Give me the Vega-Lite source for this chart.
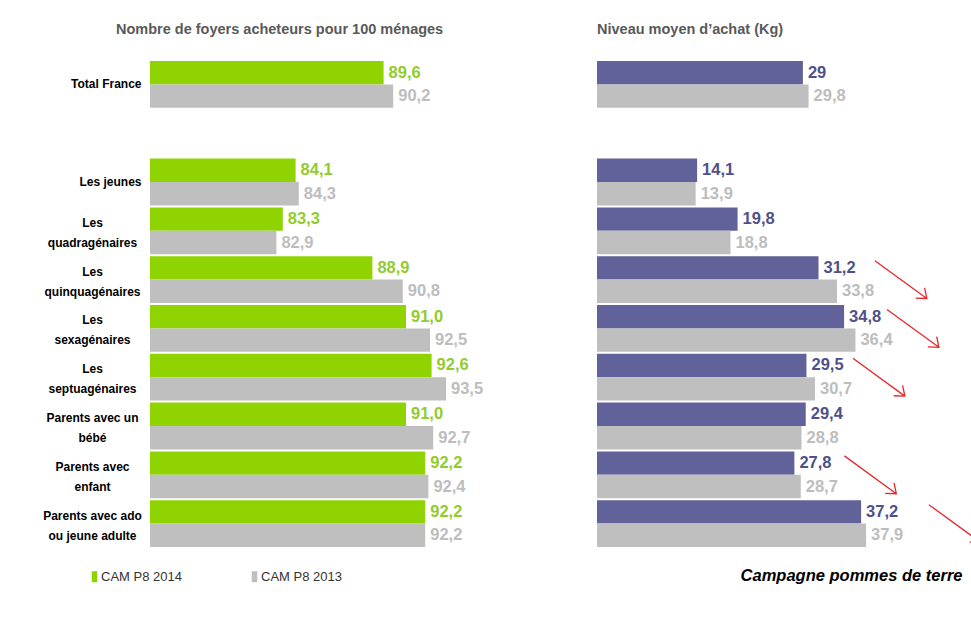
{
  "$schema": "https://vega.github.io/schema/vega-lite/v6.json",
  "background": "white",
  "padding": {"left": 42, "top": 21, "right": 0, "bottom": 0},
  "config": {
    "locale": {"number": {"decimal": ",", "thousands": " ", "grouping": [3], "currency": ["", " €"]}},
    "view": {"stroke": null},
    "font": "Liberation Sans",
    "concat": {"spacing": 47}
  },
  "datasets": {
    "main": [
      {"categorie": "Total France", "serie": "CAM P8 2014", "acheteurs": 89.6, "kg": 29},
      {"categorie": "Total France", "serie": "CAM P8 2013", "acheteurs": 90.2, "kg": 29.8},
      {"categorie": "Les jeunes", "serie": "CAM P8 2014", "acheteurs": 84.1, "kg": 14.1},
      {"categorie": "Les jeunes", "serie": "CAM P8 2013", "acheteurs": 84.3, "kg": 13.9},
      {"categorie": "Les\nquadragénaires", "serie": "CAM P8 2014", "acheteurs": 83.3, "kg": 19.8},
      {"categorie": "Les\nquadragénaires", "serie": "CAM P8 2013", "acheteurs": 82.9, "kg": 18.8},
      {"categorie": "Les\nquinquagénaires", "serie": "CAM P8 2014", "acheteurs": 88.9, "kg": 31.2},
      {"categorie": "Les\nquinquagénaires", "serie": "CAM P8 2013", "acheteurs": 90.8, "kg": 33.8},
      {"categorie": "Les\nsexagénaires", "serie": "CAM P8 2014", "acheteurs": 91.0, "kg": 34.8},
      {"categorie": "Les\nsexagénaires", "serie": "CAM P8 2013", "acheteurs": 92.5, "kg": 36.4},
      {"categorie": "Les\nseptuagénaires", "serie": "CAM P8 2014", "acheteurs": 92.6, "kg": 29.5},
      {"categorie": "Les\nseptuagénaires", "serie": "CAM P8 2013", "acheteurs": 93.5, "kg": 30.7},
      {"categorie": "Parents avec un\nbébé", "serie": "CAM P8 2014", "acheteurs": 91.0, "kg": 29.4},
      {"categorie": "Parents avec un\nbébé", "serie": "CAM P8 2013", "acheteurs": 92.7, "kg": 28.8},
      {"categorie": "Parents avec\nenfant", "serie": "CAM P8 2014", "acheteurs": 92.2, "kg": 27.8},
      {"categorie": "Parents avec\nenfant", "serie": "CAM P8 2013", "acheteurs": 92.4, "kg": 28.7},
      {"categorie": "Parents avec ado\nou jeune adulte", "serie": "CAM P8 2014", "acheteurs": 92.2, "kg": 37.2},
      {"categorie": "Parents avec ado\nou jeune adulte", "serie": "CAM P8 2013", "acheteurs": 92.2, "kg": 37.9}
    ],
    "fleches": [
      {"categorie": "Les\nquinquagénaires", "position": 42.8},
      {"categorie": "Les\nsexagénaires", "position": 44.5},
      {"categorie": "Les\nseptuagénaires", "position": 39.7},
      {"categorie": "Parents avec\nenfant", "position": 38.5},
      {"categorie": "Parents avec ado\nou jeune adulte", "position": 50.4}
    ]
  },
  "hconcat": [
    {
      "width": 400,
      "height": 488,
      "data": {"name": "main"},
      "title": {"text": "Nombre de foyers acheteurs pour 100 ménages", "anchor": "start", "frame": "group", "dx": -34, "fontSize": 14.5, "fontWeight": "bold", "color": "#595959", "offset": 23},
      "encoding": {
        "y": {
          "field": "categorie", "type": "nominal",
          "scale": {"domain": ["Total France", " ", "Les jeunes", "Les\nquadragénaires", "Les\nquinquagénaires", "Les\nsexagénaires", "Les\nseptuagénaires", "Parents avec un\nbébé", "Parents avec\nenfant", "Parents avec ado\nou jeune adulte"], "paddingInner": 0.04, "paddingOuter": 0.02},
          "axis": {
            "title": null, "domain": false, "ticks": false, "tickSize": 0,
            "labelExpr": "split(datum.value, '\\n')",
            "labelFont": "Liberation Sans", "labelFontSize": 12, "labelFontWeight": "bold", "labelColor": "#000000",
            "labelLineHeight": 20, "labelLimit": 250,
            "labelAlign": {"condition": {"test": "indexof(datum.value, '\\n') >= 0", "value": "center"}, "value": "right"},
            "labelPadding": {"condition": {"test": "indexof(datum.value, '\\n') >= 0", "value": 58}, "value": 9},
            "labelOffset": {"condition": {"test": "indexof(datum.value, '\\n') >= 0", "value": -8}, "value": 0}
          }
        },
        "x": {"field": "acheteurs", "type": "quantitative", "scale": {"domain": [75, 100], "zero": false}, "axis": null}
      },
      "layer": [
        {
          "mark": {"type": "bar"},
          "encoding": {
            "x2": {"datum": 75},
            "yOffset": {"field": "serie", "type": "nominal", "scale": {"domain": ["CAM P8 2014", "CAM P8 2013"], "paddingInner": 0, "paddingOuter": 0}},
            "color": {
              "field": "serie", "type": "nominal",
              "scale": {"domain": ["CAM P8 2014", "CAM P8 2013"], "range": ["#8fd400", "#bfbfbf"]},
              "legend": {"title": null, "orient": "none", "legendX": -62, "legendY": 510, "direction": "horizontal", "symbolType": "M-0.5,-1L0.5,-1L0.5,1L-0.5,1Z", "symbolSize": 121, "symbolStrokeWidth": 0, "labelFontSize": 13, "labelColor": "#333333", "labelFont": "Liberation Sans", "columnPadding": 66, "labelOffset": 0}
            }
          }
        },
        {
          "mark": {"type": "text", "align": "left", "baseline": "middle", "dx": 5, "fontSize": 16.5, "fontWeight": "bold", "font": "Liberation Sans"},
          "encoding": {
            "yOffset": {"field": "serie", "type": "nominal", "scale": {"domain": ["CAM P8 2014", "CAM P8 2013"], "paddingInner": 0, "paddingOuter": 0}},
            "text": {"field": "acheteurs", "type": "quantitative", "format": ".1f"},
            "color": {"condition": {"test": "datum.serie === 'CAM P8 2014'", "value": "#92cc2c"}, "value": "#bdbdbd"}
          }
        }
      ]
    },
    {
      "width": 355,
      "height": 488,
      "title": {"text": "Niveau moyen d’achat (Kg)", "anchor": "start", "frame": "group", "dx": 0, "fontSize": 14.5, "fontWeight": "bold", "color": "#595959", "offset": 23},
      "encoding": {
        "y": {
          "field": "categorie", "type": "nominal",
          "scale": {"domain": ["Total France", " ", "Les jeunes", "Les\nquadragénaires", "Les\nquinquagénaires", "Les\nsexagénaires", "Les\nseptuagénaires", "Parents avec un\nbébé", "Parents avec\nenfant", "Parents avec ado\nou jeune adulte"], "paddingInner": 0.04, "paddingOuter": 0.02},
          "axis": null
        }
      },
      "layer": [
        {
          "data": {"name": "main"},
          "mark": {"type": "bar"},
          "encoding": {
            "x": {"field": "kg", "type": "quantitative", "scale": {"domain": [0, 50]},
              "axis": {"title": "Campagne pommes de terre", "domain": false, "ticks": false, "labels": false, "grid": false, "titleAnchor": "end", "titleAlign": "right", "titleX": 365, "titleFontStyle": "italic", "titleFontWeight": "bold", "titleFontSize": 16.5, "titleColor": "#000000", "titlePadding": 19, "titleFont": "Liberation Sans"}},
            "yOffset": {"field": "serie", "type": "nominal", "scale": {"domain": ["CAM P8 2014", "CAM P8 2013"], "paddingInner": 0, "paddingOuter": 0}},
            "color": {"field": "serie", "type": "nominal", "scale": {"domain": ["CAM P8 2014", "CAM P8 2013"], "range": ["#62629a", "#bfbfbf"]}, "legend": null}
          }
        },
        {
          "data": {"name": "main"},
          "mark": {"type": "text", "align": "left", "baseline": "middle", "dx": 5, "fontSize": 16.5, "fontWeight": "bold", "font": "Liberation Sans"},
          "encoding": {
            "x": {"field": "kg", "type": "quantitative"},
            "yOffset": {"field": "serie", "type": "nominal", "scale": {"domain": ["CAM P8 2014", "CAM P8 2013"], "paddingInner": 0, "paddingOuter": 0}},
            "text": {"field": "kg", "type": "quantitative", "format": ".3~r"},
            "color": {"condition": {"test": "datum.serie === 'CAM P8 2014'", "value": "#50508a"}, "value": "#bdbdbd"}
          }
        },
        {
          "data": {"name": "fleches"},
          "mark": {"type": "point", "shape": "M-0.7,-0.51L0.7,0.51M0.4,0.5L0.7,0.51L0.64,0.22", "size": 5500, "filled": false, "color": "#e8262a", "strokeWidth": 1.3, "opacity": 1, "clip": false},
          "encoding": {
            "x": {"field": "position", "type": "quantitative"}
          }
        }
      ],
      "resolve": {"scale": {"color": "independent"}}
    }
  ],
  "resolve": {"scale": {"color": "independent", "y": "independent"}}
}
